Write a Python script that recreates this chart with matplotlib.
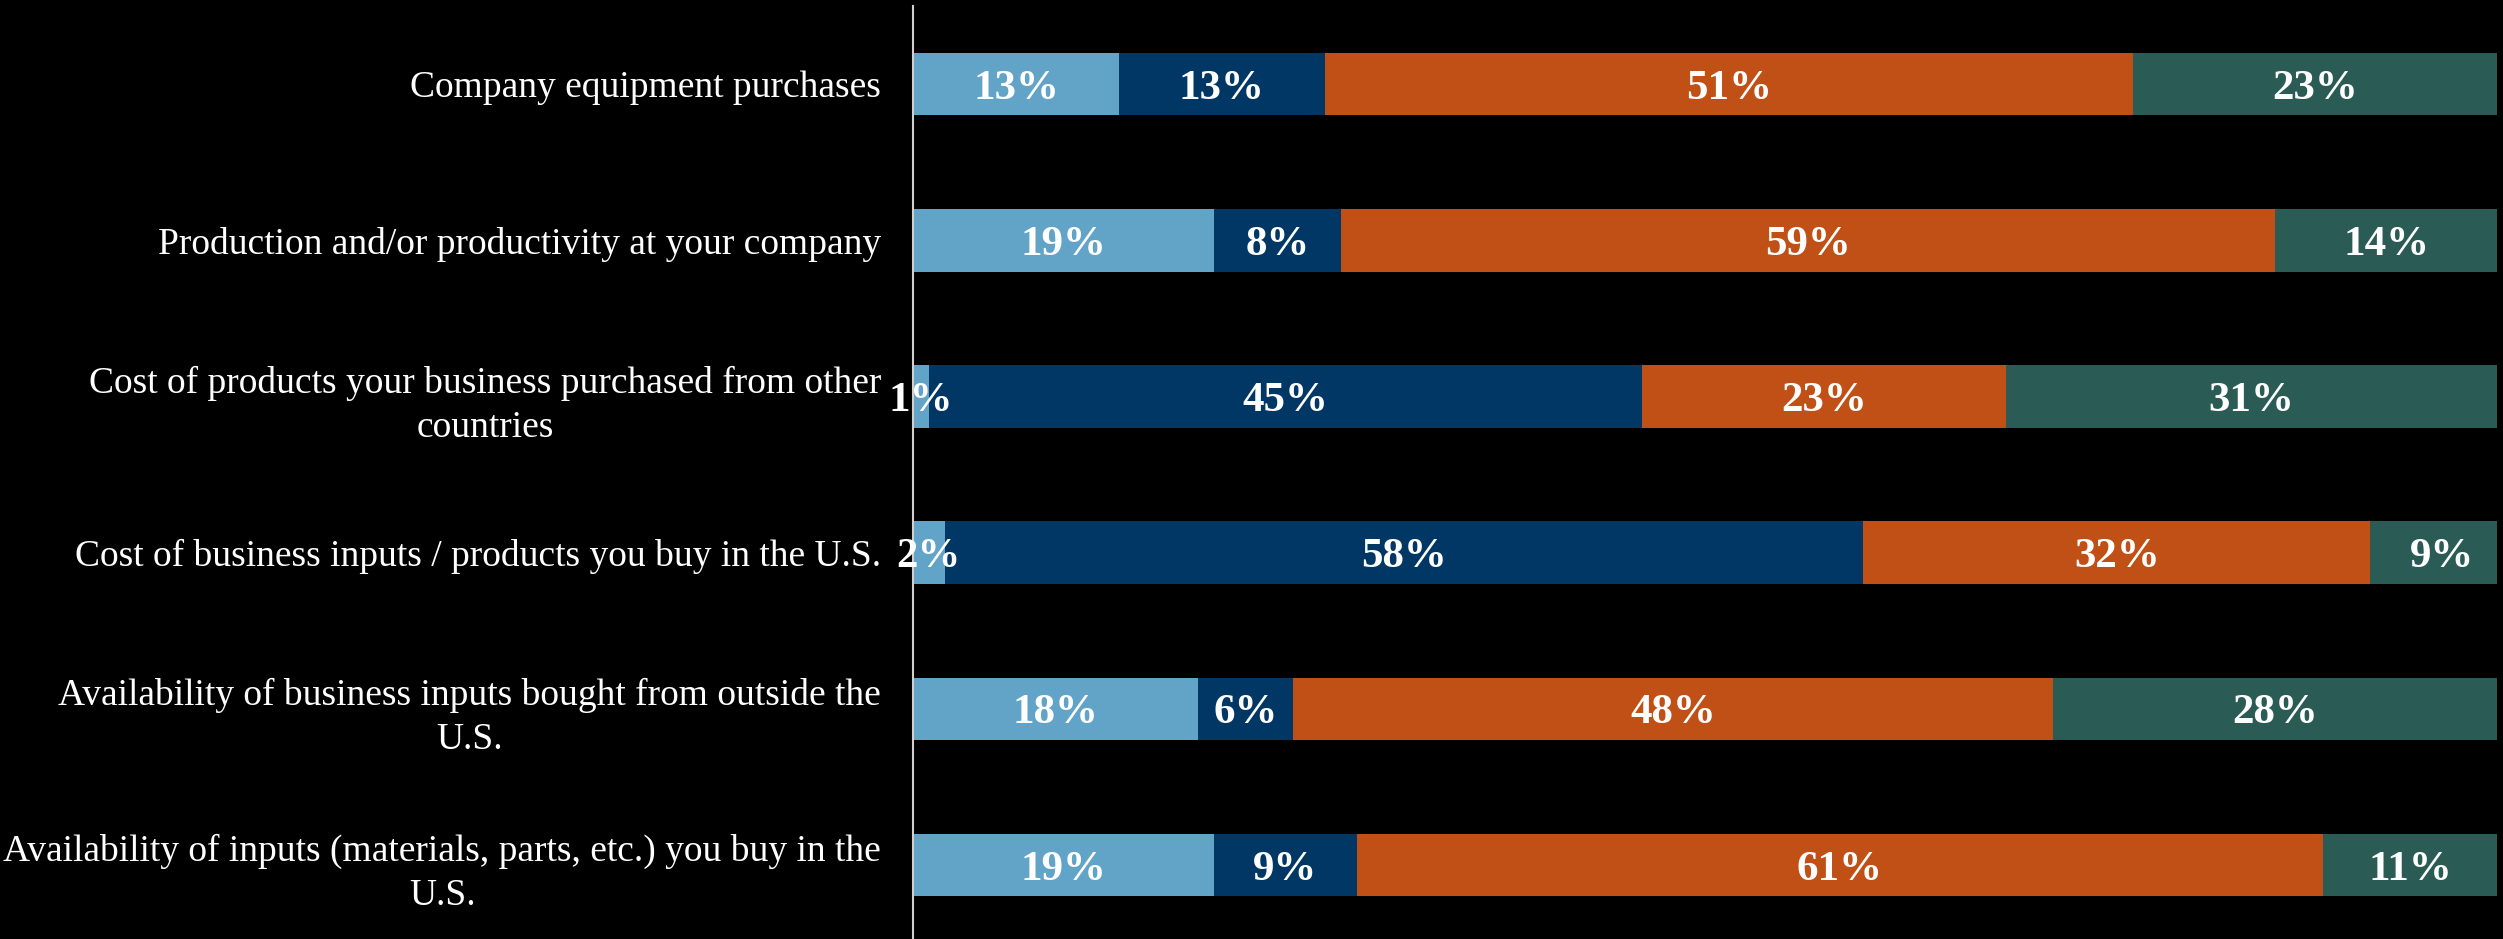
import numpy as np
import matplotlib.pyplot as plt

categories = [
    "Company equipment purchases",
    "Production and/or productivity at your company",
    "Cost of products your business purchased from other\ncountries",
    "Cost of business inputs / products you buy in the U.S.",
    "Availability of business inputs bought from outside the\nU.S.",
    "Availability of inputs (materials, parts, etc.) you buy in the\nU.S.",
]

# four answer groups, share of respondents (%)
series_1 = [13, 19, 1, 2, 18, 19]
series_2 = [13, 8, 45, 58, 6, 9]
series_3 = [51, 59, 23, 32, 48, 61]
series_4 = [23, 14, 31, 9, 28, 11]

colors = ['#62a3c8', '#013764', '#c05015', '#2a5c55']
font = 'Liberation Serif'

W, H = 2503, 939
fig = plt.figure(figsize=(W / 100, H / 100), dpi=100, facecolor='black')
ax = fig.add_axes([913 / W, 0, 1584 / W, 933 / H])
ax.set_facecolor('black')

y = np.arange(len(categories))
left = np.zeros(len(categories))
for vals, color in zip([series_1, series_2, series_3, series_4], colors):
    vals = np.array(vals, dtype=float)
    ax.barh(y, vals, left=left, height=0.4, color=color, edgecolor='none')
    for yi, l, v in zip(y, left, vals):
        ax.text(l + v / 2, yi, f"{v:.0f}%", ha='center', va='center_baseline',
                color='white', fontsize=31, fontweight='bold', family=font)
    left += vals

ax.set_xlim(0, 100)
ax.set_ylim(5.473, -0.5)

ax.set_yticks(y)
ax.set_yticklabels(categories, fontsize=27, color='white', family=font,
                   linespacing=1.35)
for t in ax.get_yticklabels():
    t.set_multialignment('center')
ax.tick_params(axis='y', length=0, pad=23)
ax.set_xticks([])

for s in ['top', 'right', 'bottom']:
    ax.spines[s].set_visible(False)
ax.spines['left'].set_color('#d0d0d0')
ax.spines['left'].set_linewidth(1.5)

fig.savefig('out.png', dpi=100, facecolor='black')
